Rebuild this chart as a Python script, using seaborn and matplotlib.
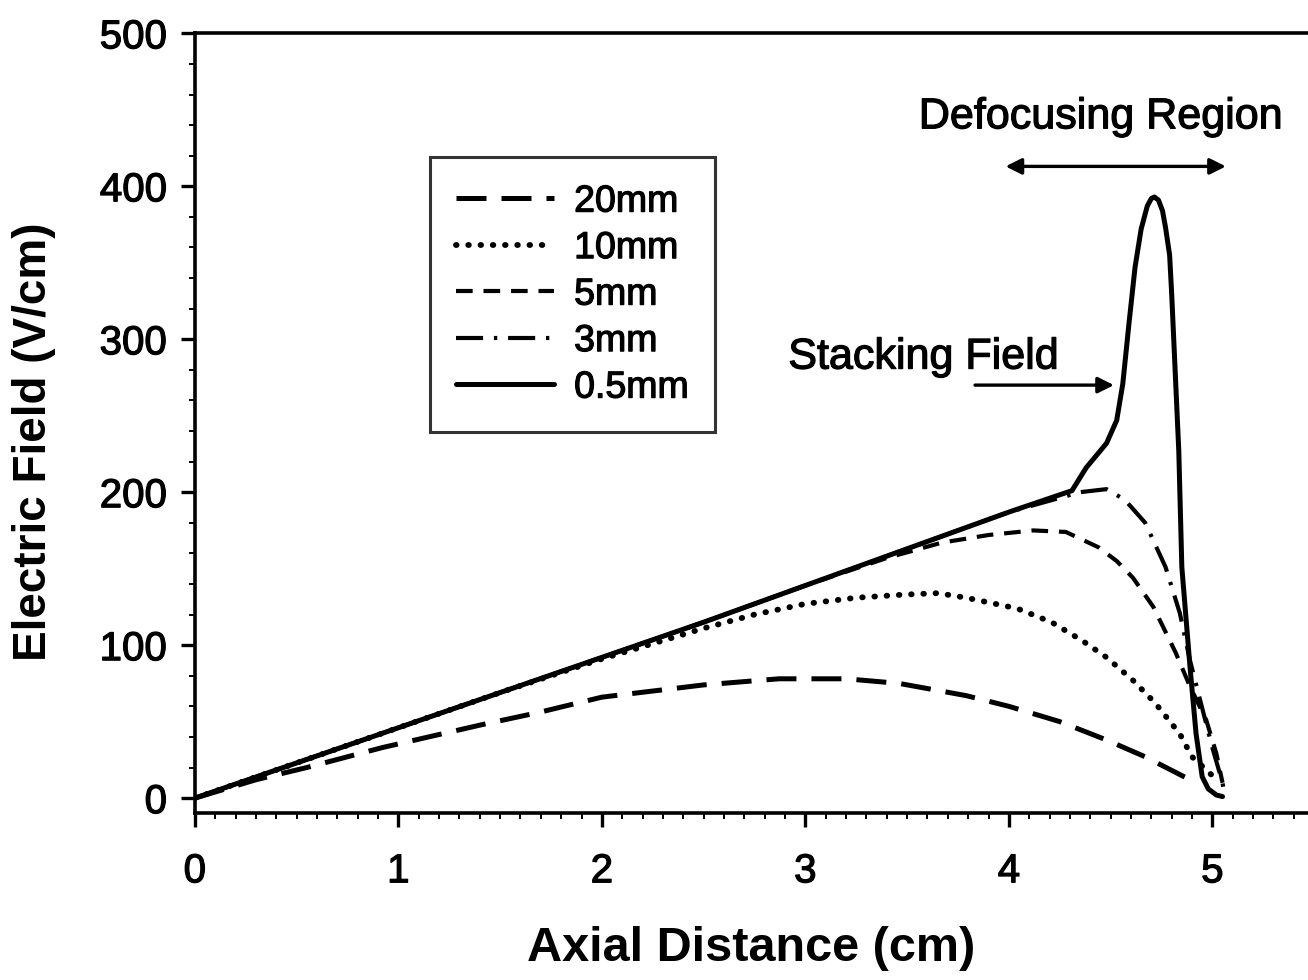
import numpy as np
import pandas as pd
import matplotlib
matplotlib.use("Agg")
import matplotlib.pyplot as plt
import matplotlib.patheffects as pe
import seaborn as sns
from matplotlib.ticker import MultipleLocator

# ---- data ----
series_names = ["20mm", "10mm", "5mm", "3mm", "0.5mm"]

x_20 = [0, 0.3, 0.55, 0.92, 1.41, 1.69, 2.0, 2.5, 2.87, 3.2, 3.46, 3.79, 4.0, 4.25, 4.48, 4.67, 4.89]
y_20 = [0, 12, 20, 33, 48, 56, 66, 74, 78, 78, 75, 67, 60, 50, 38, 27, 12]

x_10 = [0, 0.5, 1.0, 1.5, 2.0, 2.25, 2.5, 2.75, 3.0, 3.25, 3.48, 3.65, 3.79, 4.04, 4.21, 4.36, 4.48, 4.61, 4.72, 4.84, 4.90, 4.99, 5.03]
y_10 = [0, 23, 46, 69, 91, 101, 111, 120, 127, 131, 133, 134, 131, 124, 115, 103, 92, 77, 62, 42, 27, 16, 10]

x_5 = [0, 0.5, 1.0, 1.5, 2.0, 2.5, 3.0, 3.4, 3.67, 3.9, 4.12, 4.28, 4.44, 4.53, 4.61, 4.71, 4.82, 4.89, 4.97, 5.02, 5.05]
y_5 = [0, 23, 46, 69, 92, 115, 139, 157, 167, 172, 175, 174, 164, 155, 144, 125, 95, 73, 51, 29, 10]

x_3 = [0, 0.5, 1.0, 1.5, 2.0, 2.5, 3.0, 3.5, 4.0, 4.35, 4.48, 4.57, 4.67, 4.77, 4.84, 4.89, 4.94, 5.0, 5.05, 5.06]
y_3 = [0, 23, 46, 69, 92, 115, 139, 163, 187, 200, 202, 195, 180, 151, 121, 90, 64, 33, 10, 2]

x_05 = [0, 0.5, 1.0, 1.5, 2.0, 2.5, 3.0, 3.5, 4.0, 4.31, 4.38, 4.48, 4.53, 4.56, 4.59, 4.62, 4.65, 4.68, 4.70, 4.715,
        4.735, 4.755, 4.77, 4.79, 4.80, 4.82, 4.835, 4.85, 4.89, 4.92, 4.95, 4.98, 5.02, 5.05]
y_05 = [0, 23, 46, 69, 92, 115, 139, 163, 187, 201, 216, 232, 247, 271, 310, 347, 372, 387, 392, 393,
        391, 384, 373, 355, 330, 271, 227, 151, 86, 42, 14, 6, 2, 1]

xs = [x_20, x_10, x_5, x_3, x_05]
ys = [y_20, y_10, y_5, y_3, y_05]

x_ticks = [0, 1, 2, 3, 4, 5]
y_ticks = [0, 100, 200, 300, 400, 500]

frames = []
for name, xv, yv in zip(series_names, xs, ys):
    frames.append(pd.DataFrame({"x": xv, "y": yv, "series": name}))
df = pd.concat(frames, ignore_index=True)

# ---- styling ----
sns.set_style("ticks")
plt.rcParams["font.family"] = ["Liberation Sans", "DejaVu Sans"]
plt.rcParams["text.color"] = "black"
plt.rcParams["axes.labelcolor"] = "black"
plt.rcParams["xtick.color"] = "black"
plt.rcParams["ytick.color"] = "black"

heavy = [pe.withStroke(linewidth=0.9, foreground="black")]

styles = {
    "20mm": dict(dashes=(6, 3), lw=3.6, cap="butt"),
    "10mm": dict(dashes=(0.1, 2.0), lw=4.2, cap="round"),
    "5mm": dict(dashes=(4, 2.6), lw=3.0, cap="butt"),
    "3mm": dict(dashes=(6.5, 2.6, 0.8, 2.6), lw=3.0, cap="butt"),
    "0.5mm": dict(dashes=None, lw=3.6, cap="round"),
}

fig = plt.figure(figsize=(13.08, 9.8), dpi=100)
ax = fig.add_axes([0.149, 0.170, 0.851, 0.796])

for name in series_names:
    st = styles[name]
    sub = df[df["series"] == name]
    kw = dict(color="black", linewidth=st["lw"], label=name, sort=False, estimator=None)
    if st["dashes"] is not None:
        kw["dashes"] = st["dashes"]
        kw["dash_capstyle"] = st["cap"]
    else:
        kw["solid_joinstyle"] = "round"
    sns.lineplot(data=sub, x="x", y="y", ax=ax, **kw)

ax.set_xlim(0, 5.47)
ax.set_ylim(-10, 500)
ax.set_xticks(x_ticks)
ax.set_yticks(y_ticks)
ax.xaxis.set_minor_locator(MultipleLocator(0.1))
ax.yaxis.set_minor_locator(MultipleLocator(20))
ax.tick_params(axis="both", which="major", direction="out", length=10, width=2.4,
               labelsize=29, colors="black")
ax.tick_params(axis="x", which="major", pad=18)
ax.tick_params(axis="y", which="major", pad=10)
ax.tick_params(axis="both", which="minor", direction="out", length=4, width=1.4)
ax.spines["right"].set_visible(False)
for s in ["left", "bottom", "top"]:
    ax.spines[s].set_linewidth(2.6)
    ax.spines[s].set_color("black")
for lab in ax.get_xticklabels() + ax.get_yticklabels():
    lab.set_path_effects(heavy)

ax.set_xlabel("Axial Distance (cm)", fontsize=35, fontweight="bold", labelpad=26)
ax.set_ylabel("Electric Field (V/cm)", fontsize=33, fontweight="bold")
ax.yaxis.set_label_coords(-0.125, 0.476)

leg = ax.legend(loc="upper left", bbox_to_anchor=(0.211, 0.841), borderaxespad=0,
                fontsize=27, frameon=True, fancybox=False, edgecolor="black",
                handlelength=2.6, handletextpad=0.55, borderpad=0.7, labelspacing=0.28)
leg.get_frame().set_linewidth(2.2)
for t in leg.get_texts():
    t.set_path_effects(heavy)

# annotations
ax.text(4.45, 432, "Defocusing Region", fontsize=31, ha="center", va="bottom",
        path_effects=heavy)
ax.annotate("", xy=(5.08, 413), xytext=(3.97, 413),
            arrowprops=dict(arrowstyle="<|-|>", color="black", lw=2.4, mutation_scale=24))
ax.text(3.58, 288, "Stacking Field", fontsize=31, ha="center", va="center",
        path_effects=heavy)
ax.annotate("", xy=(4.53, 270), xytext=(3.82, 270),
            arrowprops=dict(arrowstyle="-|>", color="black", lw=2.4, mutation_scale=24))

fig.savefig("out.png", dpi=100)
